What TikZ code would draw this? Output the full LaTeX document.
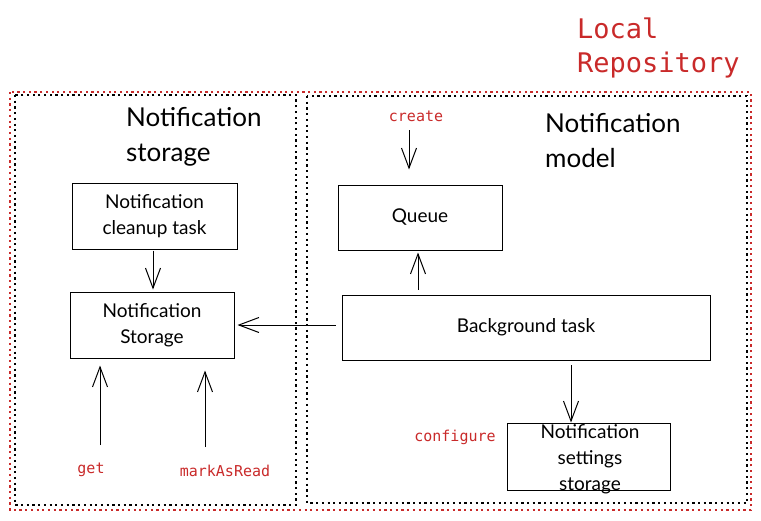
\documentclass[tikz,border=0pt]{standalone}
\usepackage{fontspec}
\setmainfont{Lato}
\newfontfamily\monof{DejaVu Sans Mono}
\usetikzlibrary{arrows.meta}
\definecolor{exred}{RGB}{201,42,42}
\tikzset{
  x=1pt, y=-1pt,
  box/.style={draw=black, line width=1pt, fill=white, align=center, inner sep=0pt, font=\fontsize{19}{26}\selectfont},
  boxtext/.style={align=center, inner sep=0pt, font=\fontsize{19}{26}\selectfont},
  blackdots/.style={draw=black, line width=1.3pt, dash pattern=on 2.2pt off 3.5pt},
  reddots/.style={draw=exred, line width=1.3pt, dash pattern=on 2.2pt off 3.5pt},
  arr/.style={draw=black, line width=1pt, -{Straight Barb[length=20pt,width=15pt,line width=1pt]}},
  redlabel/.style={text=exred, font=\monof\fontsize{15}{18}\selectfont, inner sep=0pt},
  title/.style={align=left, anchor=north west, inner sep=0pt, font=\fontsize{26}{35}\selectfont},
}
\begin{document}
\begin{tikzpicture}
\useasboundingbox (0,0) rectangle (761,520);
% containers
\draw[reddots] (10,92) rectangle (751,510);
\draw[blackdots] (15,95) rectangle (296,505);
\draw[blackdots] (307,96) rectangle (747,503);
% titles
\node[text=exred, align=left, anchor=north west, inner sep=0pt, font=\monof\fontsize{27}{34}\selectfont] (repo) at (577,18) {Local\\Repository};
\node[title] (stitle) at (126,107) {Notification\\storage};
\node[title] (mtitle) at (545,113) {Notification\\model};
% boxes
\node[box, minimum width=165, minimum height=66] (cleanup) at (154.5,216) {Notification\\cleanup task};
\node[box, minimum width=164, minimum height=66] (storage) at (152,325) {Notification\\Storage};
\node[box, minimum width=164, minimum height=65] (queue) at (420,217.5) {Queue};
\node[box, minimum width=368, minimum height=65] (bg) at (526,327.5) {Background task};
\node[box, minimum width=163, minimum height=67] (settings) at (588.5,456.5) {};
\node[boxtext] (settingstext) at (590,459) {Notification\\settings\\storage};
% red labels
\node[redlabel] (create) at (416,116) {create};
\node[redlabel] (get) at (91,470) {get};
\node[redlabel] (mar) at (225,471) {markAsRead};
\node[redlabel] (configure) at (455,437) {configure};
% connectors
\coordinate (cA) at (409,130);
\draw[arr, shorten >=15pt] (cA) -- (cA |- queue.north);
\draw[arr, shorten <=5pt, shorten >=2pt] ([xshift=-108pt]bg.north) -- ([xshift=-2pt]queue.south);
\draw[arr, shorten <=1pt, shorten >=2pt] ([xshift=-1.5pt]cleanup.south) -- ([xshift=-1.5pt]cleanup.south |- storage.north);
\draw[arr, shorten <=6pt, shorten >=3pt] (bg.west |- storage.east) -- (storage.east);
\coordinate (gA) at (100,445);
\draw[arr, shorten >=7pt] (gA) -- (gA |- storage.south);
\coordinate (mA) at (205,447);
\draw[arr, shorten >=12pt] (mA) -- (mA |- storage.south);
\coordinate (sA) at (571,365);
\draw[arr] (sA) -- (sA |- settings.north);
\end{tikzpicture}
\end{document}
